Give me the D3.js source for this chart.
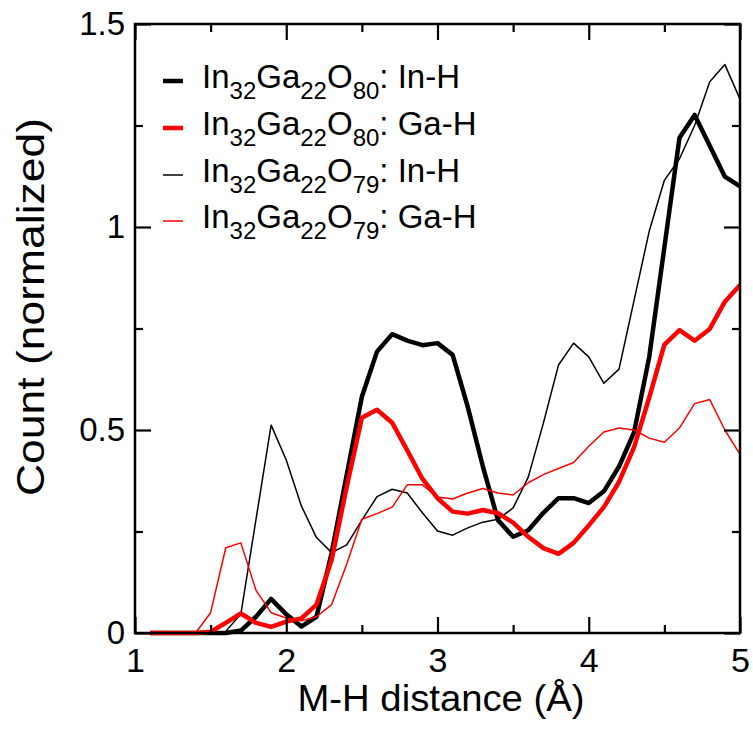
<!DOCTYPE html>
<html>
<head>
<meta charset="utf-8">
<script src="https://cdn.jsdelivr.net/npm/d3@7"></script>
<style>
  html, body { margin: 0; padding: 0; background: #fff; }
  svg { display: block; font-family: "Liberation Sans", Arial, Helvetica, sans-serif; }
</style>
</head>
<body>
<svg id="chart" width="753" height="729"></svg>
<script>
// M-H pair distance bins (Å)
const distance = [1.1, 1.2, 1.3, 1.4, 1.5, 1.6, 1.7, 1.8, 1.9, 2.0,
                  2.1, 2.2, 2.3, 2.4, 2.5, 2.6, 2.7, 2.8, 2.9, 3.0,
                  3.1, 3.2, 3.3, 3.4, 3.5, 3.6, 3.7, 3.8, 3.9, 4.0,
                  4.1, 4.2, 4.3, 4.4, 4.5, 4.6, 4.7, 4.8, 4.9, 5.0];

// In32Ga22O80: In-H
const o80InH = [0, 0, 0, 0, 0, 0, 0.006, 0.04, 0.084, 0.046,
                0.016, 0.04, 0.197, 0.39, 0.582, 0.693, 0.736, 0.72, 0.709, 0.714,
                0.685, 0.557, 0.41, 0.278, 0.237, 0.253, 0.296, 0.332, 0.332, 0.32,
                0.349, 0.41, 0.495, 0.68, 0.95, 1.22, 1.276, 1.2, 1.124, 1.1];

// In32Ga22O80: Ga-H
const o80GaH = [0, 0, 0, 0, 0.003, 0.025, 0.048, 0.025, 0.015, 0.028,
                0.036, 0.07, 0.18, 0.36, 0.53, 0.55, 0.518, 0.45, 0.38, 0.332,
                0.299, 0.294, 0.303, 0.295, 0.272, 0.237, 0.209, 0.195, 0.222, 0.265,
                0.31, 0.372, 0.458, 0.58, 0.71, 0.746, 0.72, 0.749, 0.816, 0.857];

// In32Ga22O79: In-H
const o79InH = [0, 0, 0, 0, 0, 0.004, 0.047, 0.28, 0.512, 0.426,
                0.313, 0.235, 0.198, 0.217, 0.278, 0.336, 0.354, 0.345, 0.296, 0.251,
                0.241, 0.259, 0.273, 0.28, 0.308, 0.384, 0.517, 0.66, 0.714, 0.68,
                0.615, 0.65, 0.82, 0.99, 1.115, 1.168, 1.25, 1.358, 1.4, 1.315];

// In32Ga22O79: Ga-H
const o79GaH = [0, 0, 0, 0, 0.05, 0.21, 0.222, 0.105, 0.05, 0.037,
                0.03, 0.04, 0.07, 0.17, 0.28, 0.294, 0.31, 0.365, 0.365, 0.335,
                0.33, 0.345, 0.356, 0.345, 0.34, 0.37, 0.39, 0.405, 0.42, 0.46,
                0.495, 0.505, 0.5, 0.48, 0.47, 0.505, 0.565, 0.575, 0.5, 0.44];

const xMajorTicks = [1, 2, 3, 4, 5];
const xMinorTicks = [1.5, 2.5, 3.5, 4.5];
const yMajorTicks = [0, 0.5, 1, 1.5];
const yMinorTicks = [0.25, 0.75, 1.25];
const yTickLabels = ["0", "0.5", "1", "1.5"];

const series = [
  { name: "In-H", sub: "80", values: o80InH, color: "#000000", width: 4.5 },
  { name: "Ga-H", sub: "80", values: o80GaH, color: "#ff0000", width: 4.5 },
  { name: "In-H", sub: "79", values: o79InH, color: "#000000", width: 1.5 },
  { name: "Ga-H", sub: "79", values: o79GaH, color: "#ff0000", width: 1.5 }
];

const svg = d3.select("#chart");
const plotLeft = 135, plotRight = 740, plotTop = 24, plotBottom = 633;

const x = d3.scaleLinear().domain([1, 5]).range([plotLeft, plotRight]);
const y = d3.scaleLinear().domain([0, 1.5]).range([plotBottom, plotTop]);

// curves: thick lines first, thin ones over them
const line = d3.line().x((d, i) => x(distance[i])).y(d => y(d));
const drawOrder = [0, 2, 1, 3];
svg.append("g")
  .selectAll("path")
  .data(drawOrder.map(i => series[i]))
  .join("path")
  .attr("d", s => line(s.values))
  .attr("fill", "none")
  .attr("stroke", s => s.color)
  .attr("stroke-width", s => s.width)
  .attr("stroke-linejoin", "round")
  .attr("stroke-linecap", "butt");

// axes with inward ticks on all four sides
const majorLen = 16, minorLen = 8;
function styleAxis(g) {
  g.select(".domain").remove();
  g.selectAll(".tick line").attr("stroke", "#000").attr("stroke-width", 2.2);
}

svg.append("g").attr("transform", `translate(0,${plotBottom})`)
  .call(d3.axisBottom(x).tickValues(xMajorTicks).tickSize(-majorLen).tickPadding(15).tickFormat(d3.format("d")))
  .call(styleAxis)
  .call(g => g.selectAll("text").attr("font-size", 34).attr("fill", "#000").attr("font-family", "Liberation Sans, Arial, sans-serif"));
svg.append("g").attr("transform", `translate(0,${plotBottom})`)
  .call(d3.axisBottom(x).tickValues(xMinorTicks).tickSize(-minorLen).tickFormat(""))
  .call(styleAxis);
svg.append("g").attr("transform", `translate(0,${plotTop})`)
  .call(d3.axisTop(x).tickValues(xMajorTicks).tickSize(-majorLen).tickFormat(""))
  .call(styleAxis);
svg.append("g").attr("transform", `translate(0,${plotTop})`)
  .call(d3.axisTop(x).tickValues(xMinorTicks).tickSize(-minorLen).tickFormat(""))
  .call(styleAxis);

svg.append("g").attr("transform", `translate(${plotLeft},0)`)
  .call(d3.axisLeft(y).tickValues(yMajorTicks).tickSize(-majorLen).tickPadding(10)
    .tickFormat((d, i) => yTickLabels[i]))
  .call(styleAxis)
  .call(g => g.selectAll("text").attr("font-size", 33).attr("fill", "#000").attr("font-family", "Liberation Sans, Arial, sans-serif"));
svg.append("g").attr("transform", `translate(${plotLeft},0)`)
  .call(d3.axisLeft(y).tickValues(yMinorTicks).tickSize(-minorLen).tickFormat(""))
  .call(styleAxis);
svg.append("g").attr("transform", `translate(${plotRight},0)`)
  .call(d3.axisRight(y).tickValues(yMajorTicks).tickSize(-majorLen).tickFormat(""))
  .call(styleAxis);
svg.append("g").attr("transform", `translate(${plotRight},0)`)
  .call(d3.axisRight(y).tickValues(yMinorTicks).tickSize(-minorLen).tickFormat(""))
  .call(styleAxis);

// plot frame
svg.append("rect")
  .attr("x", plotLeft).attr("y", plotTop)
  .attr("width", plotRight - plotLeft).attr("height", plotBottom - plotTop)
  .attr("fill", "none").attr("stroke", "#000").attr("stroke-width", 2.5);

// axis titles
svg.append("text")
  .attr("x", 441).attr("y", 711)
  .attr("text-anchor", "middle").attr("font-size", 37).attr("fill", "#000")
  .attr("textLength", 287).attr("lengthAdjust", "spacingAndGlyphs")
  .text("M-H distance (Å)");

svg.append("text")
  .attr("transform", `translate(44,307) rotate(-90)`)
  .attr("text-anchor", "middle").attr("font-size", 38).attr("fill", "#000")
  .attr("textLength", 378).attr("lengthAdjust", "spacingAndGlyphs")
  .text("Count (normalized)");

// legend
const legend = svg.append("g");
const rowY = [88, 135, 182, 228];
series.forEach((s, i) => {
  const g = legend.append("g").attr("transform", `translate(0,${rowY[i]})`);
  g.append("line")
    .attr("x1", 163).attr("x2", 183).attr("y1", -7).attr("y2", -7)
    .attr("stroke", s.color).attr("stroke-width", s.width);
  const t = g.append("text").attr("x", 202).attr("y", 0).attr("font-size", 33).attr("fill", "#000");
  t.append("tspan").text("In");
  t.append("tspan").attr("font-size", 24).attr("dy", 11).text("32");
  t.append("tspan").attr("dy", -11).text("Ga");
  t.append("tspan").attr("font-size", 24).attr("dy", 11).text("22");
  t.append("tspan").attr("dy", -11).text("O");
  t.append("tspan").attr("font-size", 24).attr("dy", 11).text(s.sub);
  t.append("tspan").attr("dy", -11).text(": " + s.name);
});
</script>
</body>
</html>
